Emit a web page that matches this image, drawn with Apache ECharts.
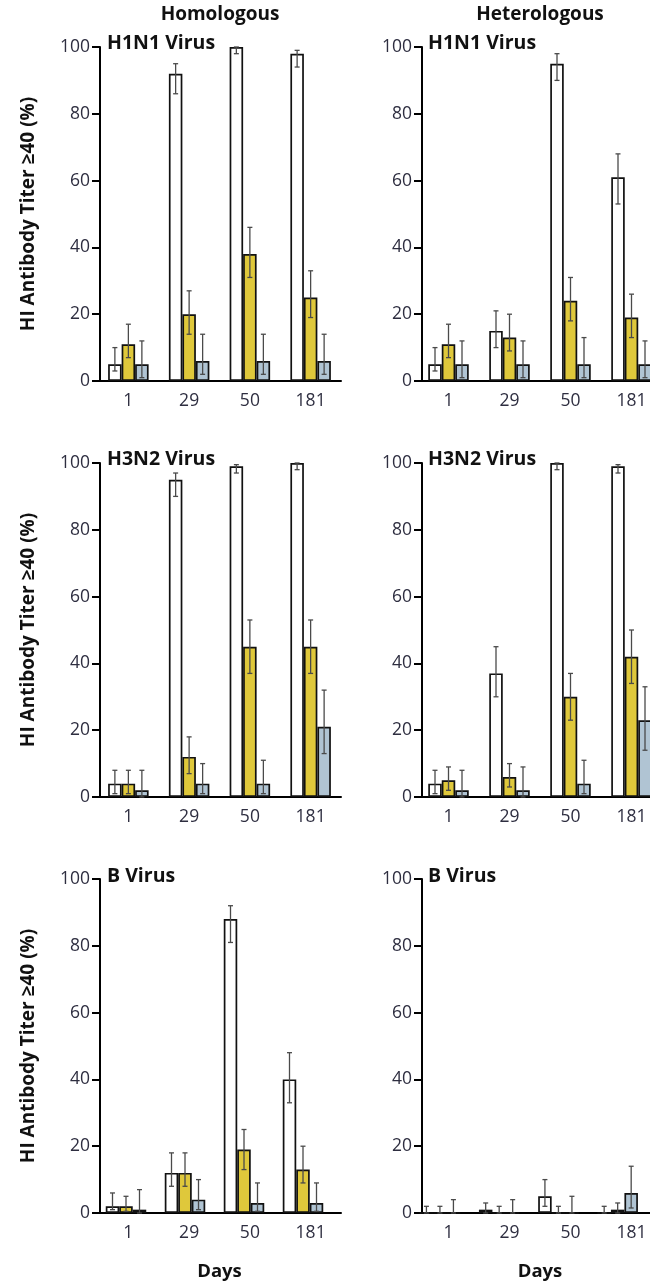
<!DOCTYPE html>
<html>
<head>
<meta charset="utf-8">
<script src="https://cdn.jsdelivr.net/npm/echarts@6/dist/echarts.min.js"></script>
<style>
html,body{margin:0;padding:0;background:#fff;}
#chart{width:650px;height:1284px;}
</style>
</head>
<body>
<div id="chart"></div>
<script>
// Categories (days)
const days = ['1', '29', '50', '181'];
const yTicks = [0, 20, 40, 60, 80, 100];
const columnTitles = ['Homologous', 'Heterologous'];
const panelTitles = ['H1N1 Virus', 'H3N2 Virus', 'B Virus'];

// Each entry: [percentage, lower CI, upper CI]
const hoH1_white  = [[5, 3, 10], [92, 86, 95], [100, 98, 100], [98, 94, 99]];
const hoH1_yellow = [[11, 7, 17], [20, 14, 27], [38, 31, 46], [25, 19, 33]];
const hoH1_gray   = [[5, 1, 12], [6, 2, 14], [6, 2, 14], [6, 2, 14]];

const heH1_white  = [[5, 3, 10], [15, 10, 21], [95, 90, 98], [61, 53, 68]];
const heH1_yellow = [[11, 7, 17], [13, 9, 20], [24, 18, 31], [19, 13, 26]];
const heH1_gray   = [[5, 1, 12], [5, 1, 12], [5, 1, 13], [5, 1, 12]];

const hoH3_white  = [[4, 1, 8], [95, 90, 97], [99, 97, 99.5], [100, 98, 100]];
const hoH3_yellow = [[4, 1, 8], [12, 7, 18], [45, 37, 53], [45, 37, 53]];
const hoH3_gray   = [[2, 0, 8], [4, 1, 10], [4, 1, 11], [21, 13, 32]];

const heH3_white  = [[4, 1, 8], [37, 30, 45], [100, 98, 100], [99, 97, 99.5]];
const heH3_yellow = [[5, 2, 9], [6, 3, 10], [30, 23, 37], [42, 34, 50]];
const heH3_gray   = [[2, 0, 8], [2, 0, 9], [4, 1, 11], [23, 14, 33]];

const hoB_white  = [[2, 1, 6], [12, 8, 18], [88, 81, 92], [40, 33, 48]];
const hoB_yellow = [[2, 0.5, 5], [12, 8, 18], [19, 13, 25], [13, 9, 20]];
const hoB_gray   = [[1, 0, 7], [4, 1, 10], [3, 0.5, 9], [3, 0.5, 9]];

const heB_white  = [[0, 0, 2], [1, 0, 3], [5, 2, 10], [0, 0, 2]];
const heB_yellow = [[0, 0, 2], [0, 0, 2], [0, 0, 2], [1, 0, 3]];
const heB_gray   = [[0, 0, 4], [0, 0, 4], [0, 0, 5], [6, 1.5, 14]];

const panels = [
  [hoH1_white, hoH1_yellow, hoH1_gray],
  [heH1_white, heH1_yellow, heH1_gray],
  [hoH3_white, hoH3_yellow, hoH3_gray],
  [heH3_white, heH3_yellow, heH3_gray],
  [hoB_white, hoB_yellow, hoB_gray],
  [heB_white, heB_yellow, heB_gray]
];

// Styles / layout
const FONT = '"Open Sans", "Noto Sans", sans-serif';
const barColors = ['#ffffff', '#dfc83b', '#b0c4d3'];
const BAR_W = 13.5;
const rowTops = [47, 463, 879];
const GRID_H = 334;
const colLeft = [98, 418];
const colWidth = [243, 244];
const colYOffset = [-2, -4];
// bottom row: bar groups sit slightly off the tick marks in the original
const bottomBarLeft = [96.5, 410.3];
const bottomBarWidth = [236, 237];

const grid = [], xAxis = [], yAxis = [], series = [];

panels.forEach((groups, p) => {
  const row = Math.floor(p / 2), col = p % 2;
  const isBottom = row === 2;
  const gAxis = grid.length;
  grid.push({left: colLeft[col], top: rowTops[row], width: colWidth[col], height: GRID_H, outerBoundsMode: 'none', containLabel: false});
  const axIdx = xAxis.length;
  xAxis.push({
    type: 'category', gridIndex: gAxis, data: days,
    name: isBottom ? 'Days' : '', nameLocation: 'middle', nameGap: 49,
    nameTextStyle: {fontSize: 18.5, fontWeight: 'bold', color: '#111', fontFamily: FONT},
    axisLine: {lineStyle: {color: '#000', width: 2}},
    axisTick: {alignWithLabel: true, length: 9, lineStyle: {color: '#000', width: 2}},
    axisLabel: {fontSize: 17.5, color: '#2e2e40', margin: 11, fontFamily: FONT},
    splitLine: {show: false}
  });
  yAxis.push({
    type: 'value', gridIndex: gAxis, min: 0, max: 100, interval: 20, offset: colYOffset[col],
    name: col === 0 ? 'HI Antibody Titer \u226540 (%)' : '',
    nameLocation: 'middle', nameGap: 62, nameRotate: 90,
    nameTextStyle: {fontSize: 19, fontWeight: 'bold', color: '#111', fontFamily: FONT},
    axisLine: {show: true, lineStyle: {color: '#000', width: 2}},
    axisTick: {show: true, length: 8, lineStyle: {color: '#000', width: 2}},
    axisLabel: {fontSize: 17.5, color: '#2e2e40', margin: 10, fontFamily: FONT,
      formatter: v => yTicks.includes(v) ? String(v) : ''},
    splitLine: {show: false}
  });
  let barX = axIdx, barY = axIdx;
  if (isBottom) {
    const gBar = grid.length;
    grid.push({left: bottomBarLeft[col], top: rowTops[row], width: bottomBarWidth[col], height: GRID_H, outerBoundsMode: 'none', containLabel: false});
    barX = xAxis.length;
    xAxis.push({type: 'category', gridIndex: gBar, data: days, show: false});
    barY = yAxis.length;
    yAxis.push({type: 'value', gridIndex: gBar, min: 0, max: 100, show: false});
  }
  groups.forEach((arr, k) => {
    series.push({
      type: 'bar', xAxisIndex: barX, yAxisIndex: barY,
      data: arr.map(d => d[0]), barWidth: BAR_W, barGap: '0%',
      itemStyle: {color: barColors[k], borderColor: '#111', borderWidth: 1.7},
      z: 2, silent: true
    });
  });
  const errData = [];
  groups.forEach((arr, k) => arr.forEach((d, i) => errData.push([i, d[1], d[2], k])));
  series.push({
    type: 'custom', xAxisIndex: barX, yAxisIndex: barY, data: errData, z: 5, silent: true,
    encode: {x: 0, y: [1, 2]},
    renderItem: (params, api) => {
      const ci = api.value(0);
      const lo = api.coord([ci, api.value(1)]);
      const hi = api.coord([ci, api.value(2)]);
      const x = lo[0] + (api.value(3) - 1) * BAR_W;
      const cap = 2.5;
      const st = {stroke: '#4a4a4a', lineWidth: 1.3};
      return {type: 'group', children: [
        {type: 'line', shape: {x1: x, y1: lo[1], x2: x, y2: hi[1]}, style: st},
        {type: 'line', shape: {x1: x - cap, y1: hi[1], x2: x + cap, y2: hi[1]}, style: st},
        {type: 'line', shape: {x1: x - cap, y1: lo[1], x2: x + cap, y2: lo[1]}, style: st}
      ]};
    }
  });
});

const graphic = [];
const colCenters = [220, 540];
columnTitles.forEach((t, c) => graphic.push({
  type: 'text', x: colCenters[c], y: 15,
  style: {text: t, font: 'bold 19px ' + FONT, fill: '#111', textAlign: 'center', textVerticalAlign: 'middle'}
}));
const titleX = [107, 428];
const titleY = [43, 459, 876];
panelTitles.forEach((t, r) => [0, 1].forEach(c => graphic.push({
  type: 'text', x: titleX[c], y: titleY[r],
  style: {text: t, font: 'bold 19.5px ' + FONT, fill: '#111', textAlign: 'left', textVerticalAlign: 'middle'}
})));

const chart = echarts.init(document.getElementById('chart'), null, {renderer: 'canvas'});
chart.setOption({
  animation: false,
  backgroundColor: '#ffffff',
  grid, xAxis, yAxis, series, graphic
});
</script>
</body>
</html>
